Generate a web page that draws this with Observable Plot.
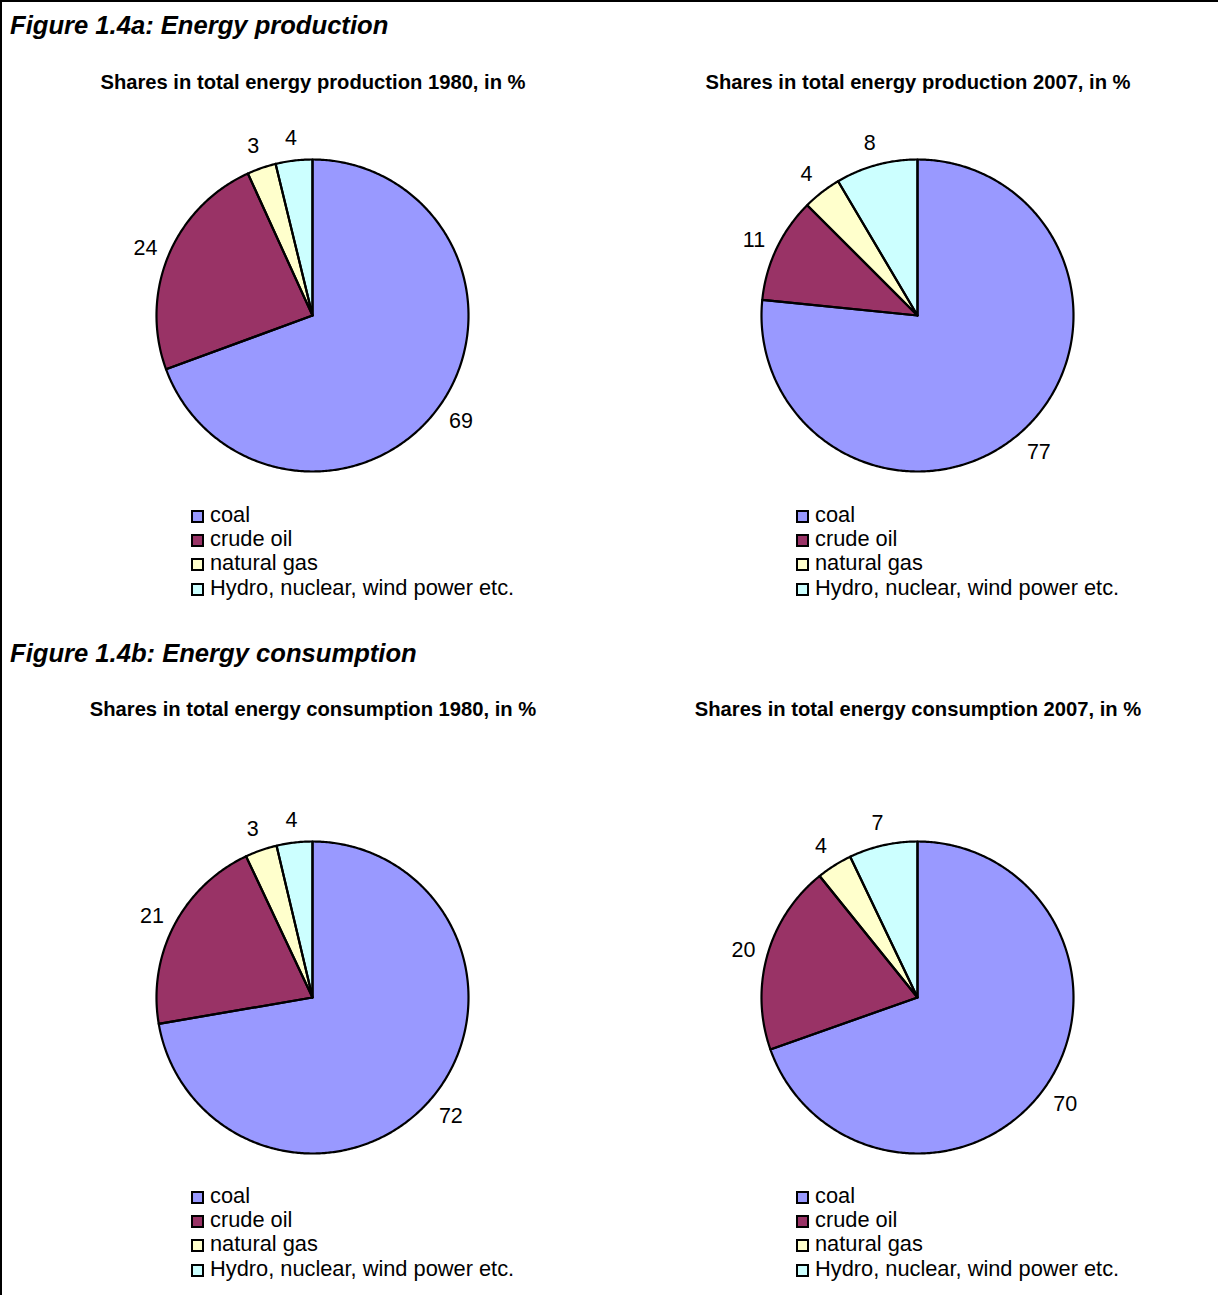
<!DOCTYPE html>
<html>
<head>
<meta charset="utf-8">
<script src="https://cdn.jsdelivr.net/npm/d3@7"></script>
<script src="https://cdn.jsdelivr.net/npm/@observablehq/plot@0.6"></script>
<style>
  html, body { margin: 0; padding: 0; background: white; }
  #page { position: relative; width: 1218px; height: 1295px; overflow: hidden; background: white;
          font-family: "Liberation Sans", Arial, sans-serif; color: black; }
  #frame { position: absolute; left: 0; top: 0; width: 1300px; height: 1400px;
           border-left: 2px solid black; border-top: 2px solid black; }
  .t { position: absolute; white-space: nowrap; }
  .sq { position: absolute; width: 9px; height: 9px; border: 2px solid black; }
  .pie { position: absolute; }
</style>
</head>
<body>
<div id="page"><div id="frame"></div></div>
<script>
const categories = ["coal", "crude oil", "natural gas", "Hydro, nuclear, wind power etc."];
const colors = ["#9999FF", "#993366", "#FFFFCC", "#CCFFFF"];

// slice sizes (angles), and the printed labels
const prod1980 = [69.4, 23.8, 3.0, 3.8];
const prod1980Labels = [69, 24, 3, 4];
const prod2007 = [76.6, 10.9, 4.0, 8.5];
const prod2007Labels = [77, 11, 4, 8];
const cons1980 = [72.3, 20.7, 3.3, 3.7];
const cons1980Labels = [72, 21, 3, 4];
const cons2007 = [69.6, 19.6, 3.7, 7.1];
const cons2007Labels = [70, 20, 4, 7];

const figureTitles = ["Figure 1.4a: Energy production", "Figure 1.4b: Energy consumption"];
const pieTitles = [
  "Shares in total energy production 1980, in %",
  "Shares in total energy production 2007, in %",
  "Shares in total energy consumption 1980, in %",
  "Shares in total energy consumption 2007, in %"
];

const page = document.getElementById("page");
const R = 156;           // pie radius in px
const HALF = 220;        // half size of each pie svg
const K = HALF / R;

function addText(str, x, baseline, fs, opts = {}) {
  const d = document.createElement("div");
  d.className = "t";
  d.textContent = str;
  d.style.fontSize = fs + "px";
  d.style.lineHeight = fs + "px";
  d.style.top = (baseline - 0.8465 * fs) + "px";
  d.style.left = x + "px";
  if (opts.bold) d.style.fontWeight = "bold";
  if (opts.italic) d.style.fontStyle = "italic";
  if (opts.center) d.style.transform = "translateX(-50%)";
  page.appendChild(d);
}

function piePlot(values, labels) {
  const arcs = d3.pie().sort(null).value(d => d)(values);
  const pts = [];
  arcs.forEach((a, i) => {
    const cat = categories[i];
    pts.push({cat, x: 0, y: 0});
    const n = Math.max(2, Math.ceil((a.endAngle - a.startAngle) / 0.01));
    for (let j = 0; j <= n; j++) {
      const t = a.startAngle + (a.endAngle - a.startAngle) * j / n;
      pts.push({cat, x: Math.sin(t), y: Math.cos(t)});
    }
    pts.push({cat, x: 0, y: 0});
  });
  const lab = arcs.map((a, i) => {
    const m = (a.startAngle + a.endAngle) / 2;
    return {x: 1.16 * Math.sin(m), y: 1.16 * Math.cos(m), text: String(labels[i])};
  });
  return Plot.plot({
    width: 2 * HALF, height: 2 * HALF, margin: 0,
    style: {background: "transparent", fontFamily: "Liberation Sans, Arial, sans-serif", fontSize: "21px", overflow: "visible"},
    x: {domain: [-K, K], axis: null},
    y: {domain: [-K, K], axis: null},
    color: {domain: categories, range: colors},
    marks: [
      Plot.line(pts, {x: "x", y: "y", z: "cat", fill: "cat", stroke: "none"}),
      Plot.line(pts, {x: "x", y: "y", z: "cat", stroke: "black", strokeWidth: 2.2, strokeLinejoin: "round"}),
      Plot.text(lab, {x: "x", y: "y", dy: 2, text: "text", fontSize: 21.5, fill: "black"})
    ]
  });
}

function addLegend(x, baseline) {
  categories.forEach((c, i) => {
    const b = baseline + i * 24.4;
    const s = document.createElement("div");
    s.className = "sq";
    s.style.left = x + "px";
    s.style.top = (b - 12.5) + "px";
    s.style.background = colors[i];
    page.appendChild(s);
    addText(c, x + 19, b, 21.8);
  });
}

const pies = [
  {vals: prod1980, labs: prod1980Labels, cx: 312, cy: 315, title: pieTitles[0], tb: 89, lb: 522},
  {vals: prod2007, labs: prod2007Labels, cx: 917, cy: 315, title: pieTitles[1], tb: 89, lb: 522},
  {vals: cons1980, labs: cons1980Labels, cx: 312, cy: 997, title: pieTitles[2], tb: 716, lb: 1203},
  {vals: cons2007, labs: cons2007Labels, cx: 917, cy: 997, title: pieTitles[3], tb: 716, lb: 1203}
];

addText(figureTitles[0], 10, 35, 25.6, {bold: true, italic: true});
addText(figureTitles[1], 10, 663, 25.6, {bold: true, italic: true});

pies.forEach(p => {
  const wrap = document.createElement("div");
  wrap.className = "pie";
  wrap.style.left = (p.cx - HALF) + "px";
  wrap.style.top = (p.cy - HALF) + "px";
  wrap.appendChild(piePlot(p.vals, p.labs));
  page.appendChild(wrap);
  addText(p.title, p.cx + 1, p.tb, 20.2, {bold: true, center: true});
  addLegend(p.cx - 121, p.lb);
});
</script>
</body>
</html>
